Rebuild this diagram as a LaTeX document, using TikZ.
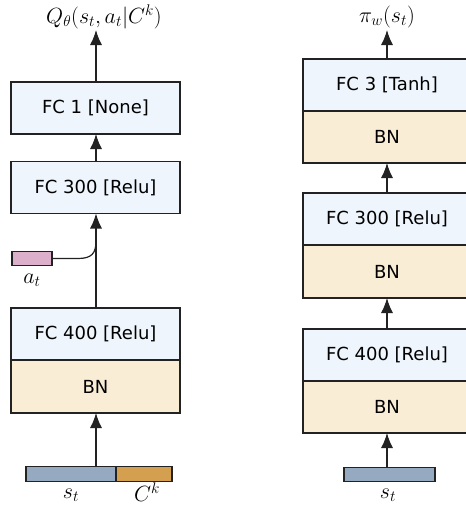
\RequirePackage{fix-cm}
\documentclass[tikz,border=0pt]{standalone}
\usepackage{fontspec}
\newfontfamily\boxfont{DejaVu Sans}
\usetikzlibrary{arrows.meta}
\definecolor{fcblue}{HTML}{EEF5FC}
\definecolor{bnbeige}{HTML}{FAEDD6}
\definecolor{atpink}{HTML}{DCB0CA}
\definecolor{stgray}{HTML}{95AAC0}
\definecolor{ckorange}{HTML}{D4A050}
\definecolor{edge}{HTML}{222222}
\begin{document}
\begin{tikzpicture}[x=1pt,y=-1pt,
  layer/.style={draw=edge,line width=1.2pt,inner sep=0pt,outer sep=0pt,
    minimum height=52pt,font=\boxfont\fontsize{18}{21}\selectfont},
  lw/.style={layer,minimum width=169pt},
  rw/.style={layer,minimum width=168pt},
  fc/.style={fill=fcblue},
  bn/.style={fill=bnbeige},
  vec/.style={draw=edge,line width=1.2pt,inner sep=0pt,outer sep=0pt,minimum height=14.5pt},
  lab/.style={inner sep=0pt,font=\fontsize{22}{26}\selectfont},
  arr/.style={line width=1.2pt,edge,-{Latex[length=15pt,width=12pt]}}]
\useasboundingbox (0,0) rectangle (466,507);
\begin{scope}
\clip (0,0) rectangle (466,507);
% left column
\node[lw,fc] (c1) at (95.5,108) {FC 1 [None]};
\node[lw,fc] (c300) at (95.5,187.5) {FC 300 [Relu]};
\node[lw,fc] (c400) at (95.5,334) {FC 400 [Relu]};
\node[lw,bn,minimum height=53pt] (cbn) at (95.5,386.5) {BN};
\node[vec,fill=stgray,minimum width=90pt] (cs) at (71,474) {};
\node[vec,fill=ckorange,minimum width=56pt] (cc) at (144,474) {};
\node[vec,fill=atpink,minimum width=40pt] (at) at (32,258.5) {};
\node[lab] (atl) at (32,280) {$a_t$};
\node[lab] (csl) at (71,495) {$s_t$};
\node[lab] (ccl) at (147,492) {$C^k$};
\node[lab] (ql) at (104,17) {$Q_\theta(s_t,a_t|C^k)$};
\coordinate (qend) at (96,30);
\coordinate (sjoin) at (96,467);
\coordinate (merge) at (96,241);
\draw[arr] (c1.north -| qend) -- (qend);
\draw[arr] (c300.north -| qend) -- (c1.south -| qend);
\draw[arr] (c400.north -| qend) -- (c300.south -| qend);
\draw[arr] (sjoin) -- (cbn.south -| sjoin);
\draw[line width=1.2pt,edge] (at.east) -- (78,258.5) .. controls (92,258.5) and (96,253) .. (merge);
% right column
\node[rw,fc] (r3) at (387,85) {FC 3 [Tanh]};
\node[rw,bn] (r3bn) at (387,137) {BN};
\node[rw,fc] (r300) at (387,219) {FC 300 [Relu]};
\node[rw,bn,minimum height=53pt] (r300bn) at (387,271.5) {BN};
\node[rw,fc] (r400) at (387,355) {FC 400 [Relu]};
\node[rw,bn] (r400bn) at (387,407) {BN};
\node[vec,fill=stgray,minimum width=91pt] (rs) at (389.5,474.5) {};
\node[lab] (rsl) at (388,495) {$s_t$};
\node[lab] (pil) at (387,17) {$\pi_w(s_t)$};
\coordinate (pend) at (387,30);
\draw[arr] (r3.north) -- (pend);
\draw[arr] (r300.north) -- (r3bn.south);
\draw[arr] (r400.north) -- (r300bn.south);
\draw[arr] (rs.north -| r400bn.south) -- (r400bn.south);
\end{scope}
\end{tikzpicture}
\end{document}
